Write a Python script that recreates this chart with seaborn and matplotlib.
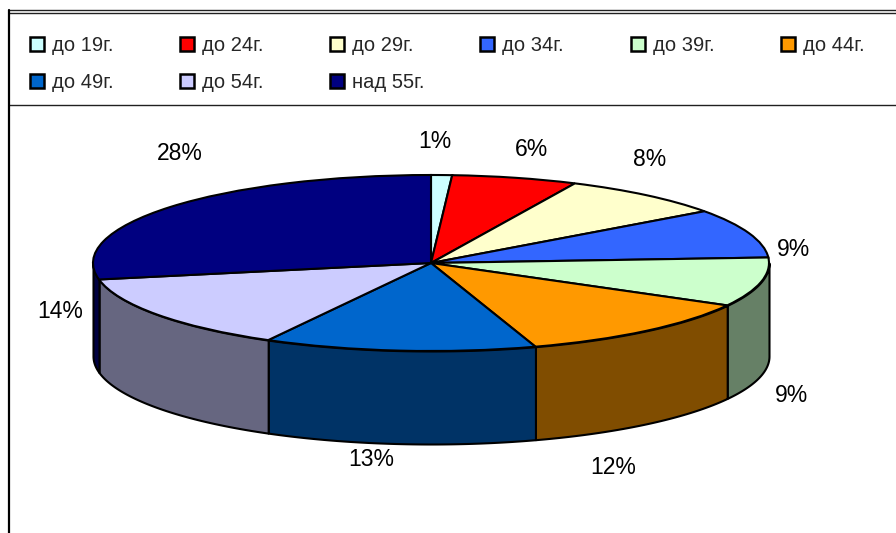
import numpy as np
import matplotlib
matplotlib.use('Agg')
import matplotlib.pyplot as plt
import matplotlib.colors as mcolors
from matplotlib.patches import Patch
import seaborn as sns

# Age groups and their share of the total, %
groups = ['до 19г.', 'до 24г.', 'до 29г.', 'до 34г.', 'до 39г.',
          'до 44г.', 'до 49г.', 'до 54г.', 'над 55г.']
shares = [1, 6, 8, 9, 9, 12, 13, 14, 28]
colors = ['#CCFFFF', '#FF0000', '#FFFFCC', '#3366FF', '#CCFFCC',
          '#FF9900', '#0066CC', '#CCCCFF', '#000080']

# where the percent labels sit (pixels, figure space)
label_pos = [(435, 142), (532, 149), (650, 159), (793, 249), (792, 396),
             (613, 467), (371, 460), (60, 312), (180, 154)]

sns.set_theme(style='white')
plt.rcParams['font.family'] = ['Liberation Sans', 'DejaVu Sans']

W, H = 896, 533
fig = plt.figure(figsize=(W / 100, H / 100), dpi=100)

# background axes in pixel units, for the frame and the labels
bg = fig.add_axes([0, 0, 1, 1])
bg.set_xlim(0, W)
bg.set_ylim(H, 0)
bg.axis('off')
line_kw = dict(color='#202020', lw=1.0, solid_capstyle='butt')
bg.plot([9, W], [10, 10], **line_kw)
bg.plot([9, W], [13, 13], **line_kw)
bg.plot([9, W], [105, 105], **line_kw)
bg.plot([9, 9], [10, H], color='black', lw=1.6)

# 3D pie: ellipse top face plus darker side walls
cx, cy, rx, ry, depth = 431, 263, 338, 88, 93
h = depth / ry
pie_ax = fig.add_axes([(cx - rx) / W, 1 - (cy + ry + depth) / H,
                       2 * rx / W, (2 * ry + depth) / H])

edges = 90 - 360 * np.concatenate([[0], np.cumsum(shares)]) / sum(shares)
for i in range(len(shares)):
    a_hi, a_lo = edges[i], edges[i + 1]
    side = tuple(np.array(mcolors.to_rgb(colors[i])) * 0.5)
    for shift in (0, -360, 360):
        lo = max(a_lo + shift, -180)
        hi = min(a_hi + shift, 0)
        if hi > lo:
            t = np.radians(np.linspace(lo, hi, 120))
            pie_ax.fill_between(np.cos(t), np.sin(t) - h, np.sin(t),
                                facecolor=side, edgecolor='black',
                                linewidth=1.5, clip_on=False, zorder=1)

pie_ax.pie(shares, colors=colors, startangle=90, counterclock=False,
           radius=1, wedgeprops=dict(edgecolor='black', linewidth=1.5,
                                     clip_on=False, zorder=3))
pie_ax.set_aspect('auto')
pie_ax.set_xlim(-1, 1)
pie_ax.set_ylim(-1 - h, 1)
pie_ax.axis('off')

for v, (x, y) in zip(shares, label_pos):
    bg.text(x, y, f'{v}%', fontsize=16.5, ha='center', va='center',
            color='black')

# legend in two rows, each its own legend so the columns line up
leg_kw = dict(loc='upper left', frameon=False, fontsize=14.5,
              handlelength=0.7, handleheight=0.7, handletextpad=0.4,
              columnspacing=3.3, borderpad=0, borderaxespad=0)
for rows, top in ((range(0, 6), 36), (range(6, 9), 73)):
    handles = [Patch(facecolor=colors[i], edgecolor='black', linewidth=1.8)
               for i in rows]
    fig.legend(handles, [groups[i] for i in rows], ncol=6,
               bbox_to_anchor=(30 / W, 1 - top / H), **leg_kw)

fig.savefig('out.png', dpi=100)
